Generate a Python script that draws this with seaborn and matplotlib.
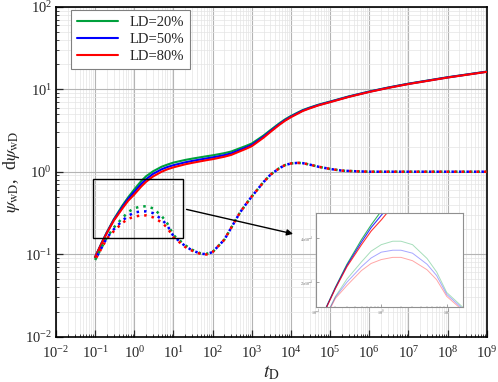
import numpy as np
import pandas as pd
import matplotlib
matplotlib.use("Agg")
import matplotlib.pyplot as plt
import seaborn as sns
from matplotlib.patches import Rectangle
from matplotlib.ticker import LogLocator, NullFormatter, FixedLocator, FixedFormatter

# ---------------- data ----------------
t_vals = [0.1, 0.15, 0.2, 0.3, 0.5, 0.7, 1, 1.5, 2, 3, 5, 7, 10, 20, 30, 50, 70, 100, 200, 300, 500, 700,
          1e3, 2e3, 3e3, 5e3, 7e3, 1e4, 2e4, 3e4, 5e4, 1e5, 3e5, 1e6, 3e6, 1e7, 1e8, 1e9]

p_ld20 = [0.092, 0.140, 0.185, 0.265, 0.390, 0.490, 0.610, 0.770, 0.880, 1.010, 1.150, 1.220, 1.290, 1.390,
          1.440, 1.500, 1.540, 1.580, 1.680, 1.760, 1.930, 2.050, 2.200, 2.750, 3.200, 3.850, 4.300,
          4.750, 5.600, 6.000, 6.500, 7.100, 8.200, 9.400, 10.50, 11.70, 14.00, 16.40]
p_ld50 = [0.092, 0.139, 0.183, 0.260, 0.375, 0.470, 0.570, 0.710, 0.810, 0.940, 1.070, 1.140, 1.200, 1.300,
          1.350, 1.410, 1.450, 1.490, 1.590, 1.670, 1.840, 1.960, 2.110, 2.660, 3.110, 3.760, 4.210,
          4.660, 5.520, 5.930, 6.430, 7.040, 8.140, 9.340, 10.44, 11.64, 13.94, 16.34]
p_ld80 = [0.092, 0.138, 0.181, 0.255, 0.360, 0.445, 0.530, 0.660, 0.755, 0.875, 1.000, 1.070, 1.130, 1.230,
          1.280, 1.340, 1.380, 1.420, 1.520, 1.600, 1.770, 1.890, 2.040, 2.590, 3.040, 3.690, 4.140,
          4.590, 5.450, 5.860, 6.370, 6.980, 8.080, 9.280, 10.38, 11.58, 13.88, 16.28]

td_vals = [0.1, 0.2, 0.3, 0.5, 0.7, 1, 1.5, 2, 3, 5, 7, 10, 20, 30, 50, 70, 100, 200, 300, 500, 700,
           1e3, 2e3, 3e3, 5e3, 7e3, 1e4, 1.5e4, 2e4, 3e4, 5e4, 1e5, 2e5, 5e5, 1e6, 1e7, 1e8, 1e9]
d_ld20 = [0.085, 0.160, 0.210, 0.275, 0.325, 0.360, 0.380, 0.380, 0.360, 0.290, 0.235, 0.170, 0.128,
          0.113, 0.102, 0.101, 0.106, 0.150, 0.210, 0.320, 0.400, 0.500, 0.750, 0.920, 1.100, 1.200,
          1.260, 1.280, 1.270, 1.220, 1.150, 1.080, 1.030, 1.010, 1.000, 1.000, 1.000, 1.000]
d_ld50 = [0.085, 0.158, 0.200, 0.255, 0.292, 0.320, 0.330, 0.330, 0.315, 0.265, 0.222, 0.165, 0.125,
          0.111, 0.101, 0.100, 0.106, 0.150, 0.210, 0.320, 0.400, 0.500, 0.750, 0.920, 1.100, 1.200,
          1.260, 1.280, 1.270, 1.220, 1.150, 1.080, 1.030, 1.010, 1.000, 1.000, 1.000, 1.000]
d_ld80 = [0.085, 0.155, 0.190, 0.240, 0.268, 0.285, 0.295, 0.295, 0.280, 0.243, 0.208, 0.160, 0.122,
          0.110, 0.100, 0.099, 0.106, 0.150, 0.210, 0.320, 0.400, 0.500, 0.750, 0.920, 1.100, 1.200,
          1.260, 1.280, 1.270, 1.220, 1.150, 1.080, 1.030, 1.010, 1.000, 1.000, 1.000, 1.000]

labels = ["LD=20%", "LD=50%", "LD=80%"]
colors = ["#00a03c", "#0000ff", "#ff0000"]
p_series = [p_ld20, p_ld50, p_ld80]
d_series = [d_ld20, d_ld50, d_ld80]

# zoom box (data coords) and inset limits
box_x = (0.089, 18.0)
box_y = (0.156, 0.82)
arrow_from = (18.4, 0.355)
arrow_to = (1.33e4, 0.173)
inset_xlim = (0.1, 17.8)
inset_ylim = (0.136, 0.59)

# ---------------- style ----------------
sns.set_style("ticks")
plt.rcParams["font.family"] = ["Liberation Serif", "DejaVu Serif"]
plt.rcParams["mathtext.fontset"] = "stix"

fig = plt.figure(figsize=(4.98, 3.82), dpi=100)
ax = fig.add_axes([0.1124, 0.119, 0.865, 0.863])

frames_p = [pd.DataFrame({"t": t_vals, "v": s, "LD": l}) for s, l in zip(p_series, labels)]
frames_d = [pd.DataFrame({"t": td_vals, "v": s, "LD": l}) for s, l in zip(d_series, labels)]

for i, (fp, c) in enumerate(zip(frames_p, colors)):
    sns.lineplot(data=fp, x="t", y="v", ax=ax, color=c, lw=1.5, label=labels[i], zorder=3)
for i, (fd, c) in enumerate(zip(frames_d, colors)):
    sns.lineplot(data=fd, x="t", y="v", ax=ax, color=c, lw=1.8, zorder=3,
                 linestyle=(i * 1.0, (1.0, 2.0)), legend=False)

ax.set_xscale("log")
ax.set_yscale("log")
ax.set_xlim(1e-2, 1e9)
ax.set_ylim(1e-2, 1e2)

ax.xaxis.set_major_locator(LogLocator(base=10, numticks=20))
ax.xaxis.set_minor_locator(LogLocator(base=10, subs=np.arange(2, 10), numticks=200))
ax.xaxis.set_minor_formatter(NullFormatter())
ax.yaxis.set_major_locator(LogLocator(base=10, numticks=20))
ax.yaxis.set_minor_locator(LogLocator(base=10, subs=np.arange(2, 10), numticks=200))
ax.yaxis.set_minor_formatter(NullFormatter())

ax.grid(which="major", color="#b4b4b4", lw=0.8, zorder=0)
ax.grid(which="minor", color="#e4e4e4", lw=0.5, zorder=0)
ax.set_axisbelow(True)

ax.tick_params(which="major", direction="in", length=5, width=0.9, labelsize=10.5)
ax.tick_params(axis="x", which="major", pad=6)
ax.tick_params(axis="y", which="major", pad=3)
ax.tick_params(which="minor", direction="in", length=2.5, width=0.6)
for s in ax.spines.values():
    s.set_linewidth(1.2)
    s.set_color("black")

ax.set_xlabel(r"$t_{\rm D}$", fontsize=14, labelpad=2)
ax.set_ylabel(r"$\psi_{\rm wD}$,  d$\psi_{\rm wD}$", fontsize=13, labelpad=2)

leg = ax.legend(loc="upper left", bbox_to_anchor=(0.035, 0.99), borderaxespad=0,
                fontsize=10.5, handlelength=2.8, frameon=True, fancybox=False,
                edgecolor="#808080", framealpha=1, borderpad=0.4, labelspacing=0.25)
leg.get_frame().set_linewidth(0.8)

# zoom rectangle and arrow
ax.add_patch(Rectangle((box_x[0], box_y[0]), box_x[1] - box_x[0], box_y[1] - box_y[0],
                       fill=False, edgecolor="black", lw=1.0, zorder=4))
ax.annotate("", xy=arrow_to, xytext=arrow_from,
            arrowprops=dict(arrowstyle="-|>", color="black", lw=1.0, mutation_scale=9),
            zorder=5)

# ---------------- inset ----------------
axin = fig.add_axes([0.634, 0.197, 0.296, 0.245])
axin.set_facecolor("white")
for i, (fp, c) in enumerate(zip(frames_p, colors)):
    sns.lineplot(data=fp, x="t", y="v", ax=axin, color=c, lw=0.8, alpha=0.8, legend=False)
for i, (fd, c) in enumerate(zip(frames_d, colors)):
    sns.lineplot(data=fd, x="t", y="v", ax=axin, color=c, lw=0.7, alpha=0.35, legend=False)
axin.set_xscale("log")
axin.set_yscale("log")
axin.set_xlim(*inset_xlim)
axin.set_ylim(*inset_ylim)
axin.set_xlabel("")
axin.set_ylabel("")
axin.xaxis.set_major_locator(FixedLocator([0.1, 1, 10]))
axin.xaxis.set_major_formatter(FixedFormatter([r"$10^{-1}$", r"$10^{0}$", r"$10^{1}$"]))
axin.xaxis.set_minor_locator(LogLocator(base=10, subs=np.arange(2, 10), numticks=50))
axin.xaxis.set_minor_formatter(NullFormatter())
axin.yaxis.set_major_locator(FixedLocator([0.2, 0.4]))
axin.yaxis.set_major_formatter(FixedFormatter([r"$2{\times}10^{-1}$", r"$4{\times}10^{-1}$"]))
axin.yaxis.set_minor_locator(FixedLocator([0.15, 0.25, 0.3, 0.35, 0.45, 0.5, 0.55]))
axin.yaxis.set_minor_formatter(NullFormatter())
axin.tick_params(which="major", direction="in", length=2, width=0.4, labelsize=3, pad=1.5,
                 colors="#606060")
axin.tick_params(which="minor", direction="in", length=1, width=0.3, colors="#808080")
for s in axin.spines.values():
    s.set_linewidth(0.8)
    s.set_color("#909090")

fig.savefig("out.png", dpi=100)
